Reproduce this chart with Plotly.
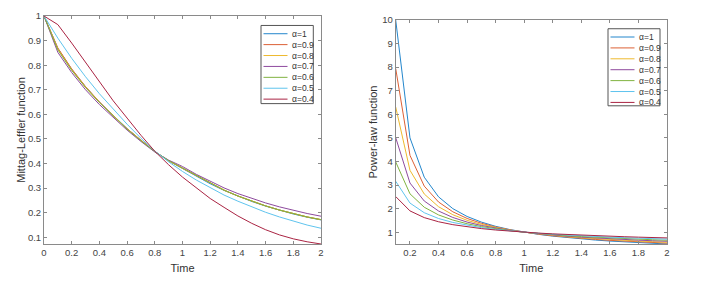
import plotly.graph_objects as go

# ---------------- data ----------------
alpha_labels = ["α=1", "α=0.9", "α=0.8", "α=0.7", "α=0.6", "α=0.5", "α=0.4"]
colors = ["#2386cc", "#dc6035", "#eeb92e", "#8e4a9e", "#80b340", "#5fc4ee", "#aa2443"]

# left panel: Mittag-Leffler function, t = 0 .. 2 step 0.1
t_ml = [0.0, 0.1, 0.2, 0.3, 0.4, 0.5, 0.6, 0.7, 0.8, 0.9, 1.0,
        1.1, 1.2, 1.3, 1.4, 1.5, 1.6, 1.7, 1.8, 1.9, 2.0]
ml_a10 = [1.0, 0.868, 0.783, 0.712, 0.650, 0.594, 0.542, 0.494, 0.449, 0.411, 0.380,
          0.348, 0.318, 0.291, 0.267, 0.246, 0.227, 0.210, 0.195, 0.182, 0.171]
ml_a09 = [1.0, 0.870, 0.785, 0.713, 0.651, 0.594, 0.542, 0.494, 0.449, 0.411, 0.381,
          0.349, 0.319, 0.292, 0.268, 0.247, 0.228, 0.211, 0.196, 0.183, 0.172]
ml_a08 = [1.0, 0.866, 0.781, 0.711, 0.649, 0.593, 0.541, 0.494, 0.449, 0.411, 0.381,
          0.349, 0.319, 0.292, 0.268, 0.247, 0.228, 0.211, 0.196, 0.183, 0.172]
ml_a07 = [1.0, 0.852, 0.770, 0.700, 0.640, 0.586, 0.536, 0.490, 0.447, 0.414, 0.388,
          0.356, 0.327, 0.301, 0.278, 0.258, 0.240, 0.224, 0.210, 0.197, 0.186]
ml_a06 = [1.0, 0.862, 0.779, 0.709, 0.648, 0.592, 0.540, 0.493, 0.449, 0.412, 0.382,
          0.349, 0.319, 0.292, 0.268, 0.247, 0.228, 0.211, 0.196, 0.183, 0.172]
ml_a05 = [1.0, 0.910, 0.828, 0.753, 0.684, 0.620, 0.560, 0.503, 0.451, 0.407, 0.368,
          0.333, 0.301, 0.272, 0.247, 0.223, 0.202, 0.183, 0.165, 0.150, 0.137]
ml_a04 = [1.0, 0.965, 0.890, 0.810, 0.730, 0.655, 0.585, 0.515, 0.450, 0.395, 0.345,
          0.300, 0.258, 0.222, 0.187, 0.157, 0.131, 0.110, 0.094, 0.082, 0.073]
ml_series = [ml_a10, ml_a09, ml_a08, ml_a07, ml_a06, ml_a05, ml_a04]

# right panel: Power-law function, t = 0.1 .. 2 step 0.1
t_pl = [0.1, 0.2, 0.3, 0.4, 0.5, 0.6, 0.7, 0.8, 0.9, 1.0,
        1.1, 1.2, 1.3, 1.4, 1.5, 1.6, 1.7, 1.8, 1.9, 2.0]
pl_a10 = [10.0, 5.0, 3.333, 2.5, 2.0, 1.667, 1.429, 1.25, 1.111, 1.0,
          0.909, 0.833, 0.769, 0.714, 0.667, 0.625, 0.588, 0.556, 0.526, 0.5]
pl_a09 = [7.943, 4.257, 2.955, 2.281, 1.866, 1.584, 1.379, 1.222, 1.099, 1.0,
          0.918, 0.849, 0.790, 0.739, 0.694, 0.655, 0.620, 0.589, 0.561, 0.536]
pl_a08 = [6.310, 3.624, 2.620, 2.081, 1.741, 1.505, 1.330, 1.195, 1.088, 1.0,
          0.927, 0.864, 0.811, 0.764, 0.723, 0.687, 0.654, 0.625, 0.598, 0.574]
pl_a07 = [5.012, 3.085, 2.323, 1.899, 1.625, 1.430, 1.284, 1.169, 1.077, 1.0,
          0.935, 0.880, 0.832, 0.790, 0.753, 0.720, 0.690, 0.663, 0.638, 0.616]
pl_a06 = [3.981, 2.627, 2.059, 1.733, 1.516, 1.359, 1.239, 1.143, 1.065, 1.0,
          0.944, 0.896, 0.854, 0.817, 0.784, 0.754, 0.727, 0.703, 0.680, 0.660]
pl_a05 = [3.162, 2.236, 1.826, 1.581, 1.414, 1.291, 1.195, 1.118, 1.054, 1.0,
          0.953, 0.913, 0.877, 0.845, 0.816, 0.791, 0.767, 0.745, 0.725, 0.707]
pl_a04 = [2.512, 1.904, 1.619, 1.443, 1.320, 1.227, 1.153, 1.093, 1.043, 1.0,
          0.963, 0.930, 0.900, 0.874, 0.850, 0.829, 0.809, 0.791, 0.774, 0.758]
pl_series = [pl_a10, pl_a09, pl_a08, pl_a07, pl_a06, pl_a05, pl_a04]

left_xticks = [0, 0.2, 0.4, 0.6, 0.8, 1, 1.2, 1.4, 1.6, 1.8, 2]
left_yticks = [0.1, 0.2, 0.3, 0.4, 0.5, 0.6, 0.7, 0.8, 0.9, 1]
right_xticks = [0.2, 0.4, 0.6, 0.8, 1, 1.2, 1.4, 1.6, 1.8, 2]
right_yticks = [1, 2, 3, 4, 5, 6, 7, 8, 9, 10]

# ---------------- layout geometry (pixels) ----------------
W, H = 705, 284
ML, MR, MT, MB = 44, 38, 15.5, 39.5
PW, PH = W - ML - MR, H - MT - MB


def px_x(X):
    return (X - ML) / PW


def px_y(Y):
    return 1 - (Y - MT) / PH


# ---------------- figure ----------------
fig = go.Figure()
for name, col, ys in zip(alpha_labels, colors, ml_series):
    fig.add_trace(go.Scatter(x=t_ml, y=ys, mode="lines", name=name, showlegend=False,
                             line=dict(color=col, width=1), xaxis="x", yaxis="y"))
for name, col, ys in zip(alpha_labels, colors, pl_series):
    fig.add_trace(go.Scatter(x=t_pl, y=ys, mode="lines", name=name, showlegend=False,
                             line=dict(color=col, width=1), xaxis="x2", yaxis="y2"))

axcol = "#8a8a8a"
fam = "Liberation Sans, Arial, sans-serif"
tickfont = dict(family=fam, size=9.5, color="#444444")
titlefont = dict(family=fam, size=11, color="#333333")
common = dict(showgrid=False, zeroline=False, showline=True, linecolor=axcol, linewidth=1,
              mirror="ticks", ticks="inside", ticklen=3, tickcolor=axcol, tickwidth=1,
              tickfont=tickfont, automargin=False)

ml_min = min(min(s) for s in ml_series)
pl_min = min(min(s) for s in pl_series)

# manual compact legends (MATLAB style)
shapes, annos = [], []
for (bx0, by0, bx1, by1) in [(261, 25, 313.3, 103.5), (608, 28.3, 660, 105.7)]:
    shapes.append(dict(type="rect", xref="paper", yref="paper",
                       x0=px_x(bx0), x1=px_x(bx1), y0=px_y(by1), y1=px_y(by0),
                       line=dict(color="#555555", width=1), fillcolor="white", layer="above"))
    for i, (name, col) in enumerate(zip(alpha_labels, colors)):
        yy = by0 + 8.3 + i * 10.95
        shapes.append(dict(type="line", xref="paper", yref="paper",
                           x0=px_x(bx0 + 2.5), x1=px_x(bx0 + 26.5), y0=px_y(yy), y1=px_y(yy),
                           line=dict(color=col, width=1), layer="above"))
        annos.append(dict(xref="paper", yref="paper", x=px_x(bx0 + 28.5), y=px_y(yy),
                          xanchor="left", yanchor="middle", showarrow=False, text=name,
                          font=dict(family=fam, size=8.5, color="#333333")))

fig.update_layout(
    width=W, height=H,
    paper_bgcolor="white", plot_bgcolor="white",
    margin=dict(l=ML, r=MR, t=MT, b=MB),
    showlegend=False,
    xaxis=dict(domain=[0, px_x(321)], range=[0, 2], tickvals=left_xticks,
               ticktext=[f"{v:g}" for v in left_xticks],
               title=dict(text="Time", font=titlefont, standoff=6), **common),
    yaxis=dict(domain=[0, 1], range=[ml_min, 1], tickvals=left_yticks,
               ticktext=[f"{v:g}" for v in left_yticks],
               title=dict(text="Mittag-Leffler function", font=titlefont, standoff=0), **common),
    xaxis2=dict(domain=[px_x(395.7), 1], range=[0.1, 2], tickvals=right_xticks,
                ticktext=[f"{v:g}" for v in right_xticks], anchor="y2",
                title=dict(text="Time", font=titlefont, standoff=6), **common),
    yaxis2=dict(domain=[0, px_y(19.5)], range=[pl_min, 10], tickvals=right_yticks,
                ticktext=[f"{v:g}" for v in right_yticks], anchor="x2",
                title=dict(text="Power-law function", font=titlefont, standoff=2), **common),
    shapes=shapes,
    annotations=annos,
)

fig.write_html("out.html", config={"displayModeBar": False},
               post_script="document.body.style.margin='0px';")
